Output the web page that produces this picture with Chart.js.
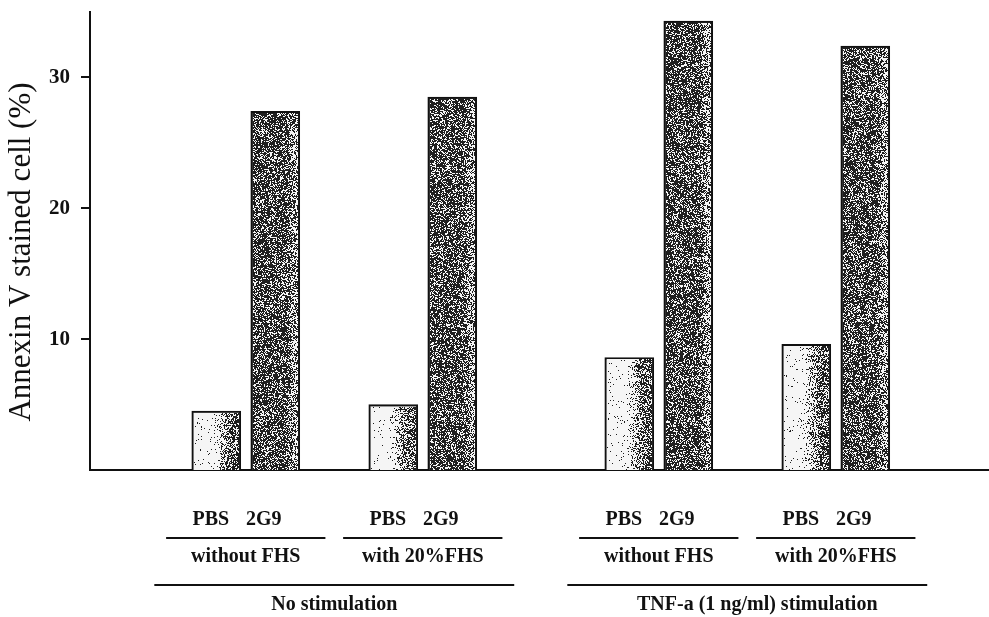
<!DOCTYPE html>
<html lang="en">
<head>
  <meta charset="UTF-8">
  <title>Annexin V stained cell</title>
  <script src="https://cdn.jsdelivr.net/npm/chart.js"></script>
  <style>
    body { margin: 0; background: #fff; }
    #wrap { width: 989px; height: 617px; position: relative; }
  </style>
</head>
<body>
  <div id="wrap"><canvas id="annexinChart"></canvas></div>

  <script>
    // values
    const barLabels = ['PBS', '2G9', 'PBS', '2G9', 'PBS', '2G9', 'PBS', '2G9'];
    const annexinValues = [4.5, 27.4, 5.0, 28.5, 8.6, 34.3, 9.6, 32.4];
    const fhsGroups = ['without FHS', 'with 20%FHS', 'without FHS', 'with 20%FHS'];
    const stimGroups = ['No stimulation', 'TNF-a (1 ng/ml) stimulation'];
    const yTicks = [10, 20, 30];

    // slot on the x axis: pairs of bars, an extra gap between the two stimulation blocks
    function slotOf(i) {
      const g = Math.floor(i / 2), j = i % 2;
      return 2 + 3 * g + j + (g >= 2 ? 1 : 0);
    }

    const points = annexinValues.map((v, i) => ({ x: slotOf(i), y: v }));

    function hash(x, y) {
      let n = Math.imul(x, 374761393) + Math.imul(y, 668265263) | 0;
      n = Math.imul(n ^ (n >>> 13), 1274126177);
      n = n ^ (n >>> 16);
      return (n >>> 0) / 4294967296;
    }
    function smooth(a, b, t) {
      const k = Math.min(1, Math.max(0, (t - a) / (b - a)));
      return k * k * (3 - 2 * k);
    }

    // stippled fill, like the scanned halftone
    const stipple = {
      id: 'stipple',
      afterDatasetsDraw(chart) {
        const ctx = chart.ctx;
        const meta = chart.getDatasetMeta(0);
        meta.data.forEach((bar, i) => {
          const bw = bar.options.borderWidth;
          const left = Math.round(bar.x - bar.width / 2 + bw);
          const right = Math.round(bar.x + bar.width / 2 - bw);
          const top = Math.round(bar.y + bw);
          const bottom = Math.round(bar.base);
          const w = right - left, h = bottom - top;
          if (w <= 0 || h <= 0) return;
          const img = ctx.createImageData(w, h);
          const light = i % 2 === 0;
          for (let px = 0; px < w; px++) {
            const t = px / (w - 1);
            const d = light
              ? 0.03 + 0.6 * smooth(0.38, 0.9, t)
              : 0.7 - 0.28 * smooth(0.72, 1.0, t);
            for (let py = 0; py < h; py++) {
              const dark = hash(left + px, top + py) < d;
              const k = (py * w + px) * 4;
              const c = dark ? 30 : 245;
              img.data[k] = c; img.data[k + 1] = c; img.data[k + 2] = c; img.data[k + 3] = 255;
            }
          }
          ctx.putImageData(img, left, top);
        });
      }
    };

    // category labels under the axis, with the bracket lines
    const groupLabels = {
      id: 'groupLabels',
      afterDraw(chart) {
        const ctx = chart.ctx;
        const x = chart.scales.x;
        ctx.save();
        ctx.fillStyle = '#111';
        ctx.strokeStyle = '#111';
        ctx.lineWidth = 2;
        ctx.textAlign = 'center';
        ctx.textBaseline = 'alphabetic';
        ctx.font = 'bold 20px "Liberation Serif"';

        fhsGroups.forEach((name, g) => {
          const c = (slotOf(2 * g) + slotOf(2 * g + 1)) / 2;
          const cx = x.getPixelForValue(c);
          ctx.fillText(barLabels[2 * g], cx - 35, 525);
          ctx.fillText(barLabels[2 * g + 1], cx + 18, 525);
          ctx.beginPath();
          ctx.moveTo(x.getPixelForValue(c - 1.35), 538);
          ctx.lineTo(x.getPixelForValue(c + 1.35), 538);
          ctx.stroke();
          ctx.fillText(name, cx, 562);
        });

        stimGroups.forEach((name, s) => {
          const c = (slotOf(4 * s) + slotOf(4 * s + 3)) / 2;
          const cx = x.getPixelForValue(c);
          ctx.beginPath();
          ctx.moveTo(x.getPixelForValue(c - 3.05), 585);
          ctx.lineTo(x.getPixelForValue(c + 3.05), 585);
          ctx.stroke();
          ctx.fillText(name, cx + s * 10, 610);
        });

        // y title
        ctx.translate(22, 252);
        ctx.rotate(-Math.PI / 2);
        ctx.textBaseline = 'middle';
        ctx.font = '31px "Liberation Serif"';
        ctx.fillText('Annexin V stained cell (%)', 0, 0);
        ctx.restore();
      }
    };

    new Chart(document.getElementById('annexinChart'), {
      type: 'bar',
      data: {
        datasets: [{
          data: points,
          backgroundColor: annexinValues.map((v, i) => i % 2 === 0 ? '#c8c8c8' : '#4a4a4a'),
          borderColor: '#111',
          borderWidth: 2,
          borderSkipped: 'start',
          barThickness: 49
        }]
      },
      options: {
        responsive: true,
        maintainAspectRatio: false,
        animation: false,
        layout: { padding: { left: 0, top: 12, right: 1, bottom: 147 } },
        plugins: { legend: { display: false }, tooltip: { enabled: false } },
        scales: {
          x: {
            type: 'linear',
            offset: false,
            min: -0.14,
            max: 15.08,
            grid: { display: false },
            border: { display: true, color: '#111', width: 2 },
            ticks: { display: false },
            afterFit: s => { s.height = 0; s.paddingLeft = 0; s.paddingRight = 0; }
          },
          y: {
            min: 0,
            max: 35,
            grid: { drawOnChartArea: false, drawTicks: true, tickLength: 9, color: '#111', lineWidth: 2 },
            border: { display: true, color: '#111', width: 2 },
            ticks: {
              stepSize: 10,
              includeBounds: false,
              padding: 11,
              color: '#111',
              font: { family: '"Liberation Serif"', size: 21, weight: 'bold' }
            },
            afterBuildTicks: s => { s.ticks = yTicks.map(v => ({ value: v })); },
            afterFit: s => { s.width = 90; s.paddingTop = 0; s.paddingBottom = 0; }
          }
        }
      },
      plugins: [stipple, groupLabels]
    });
  </script>
</body>
</html>
